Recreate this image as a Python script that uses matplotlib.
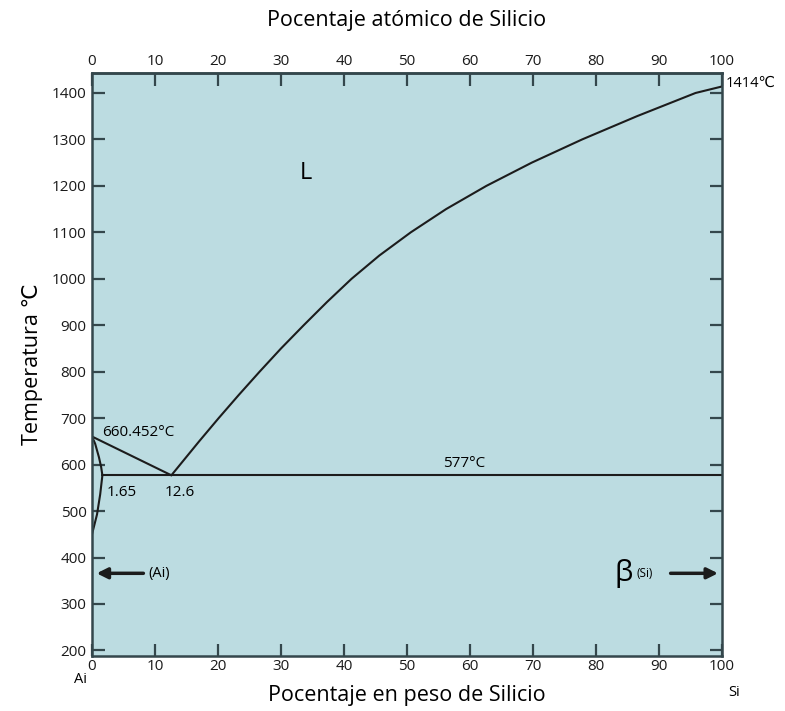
import matplotlib
matplotlib.use("Agg")
import matplotlib.pyplot as plt

plt.rcParams['font.family'] = ['Open Sans', 'DejaVu Sans']

# composition axis (wt% Si) and temperature ticks
wt_ticks = [0, 10, 20, 30, 40, 50, 60, 70, 80, 90, 100]
at_ticks = [0, 10, 20, 30, 40, 50, 60, 70, 80, 90, 100]
temp_ticks = [200, 300, 400, 500, 600, 700, 800, 900, 1000, 1100, 1200, 1300, 1400]

# Al-rich side
al_melt = 660.452
eutectic_T = 577
eutectic_x = 12.6
max_sol = 1.65

liq_al_x = [0, eutectic_x]
liq_al_T = [al_melt, eutectic_T]

solidus_x = [0, 0.5, 1.1, 1.45, max_sol]
solidus_T = [al_melt, 645, 616, 595, eutectic_T]

solvus_x = [max_sol, 1.3, 0.8, 0]
solvus_T = [eutectic_T, 536, 493, 450]

# Si-rich liquidus
liq_si_x = [12.6, 17.0, 20.1, 23.3, 26.6, 30.0, 33.6, 37.3, 41.2, 45.6, 50.6,
            56.2, 62.6, 69.8, 77.8, 86.5, 95.8, 100]
liq_si_T = [577, 650, 700, 750, 800, 850, 900, 950, 1000, 1050, 1100,
            1150, 1200, 1250, 1300, 1350, 1400, 1414]

eut_line_x = [max_sol, 100]
eut_line_T = [eutectic_T, eutectic_T]

bg = '#bcdce1'
line_c = '#1c1c1c'
spine_c = '#34474c'

fig = plt.figure(figsize=(7.85, 7.11), dpi=100)
ax = fig.add_axes([92/785, 55/711, 630/785, 583/711])
ax.set_facecolor(bg)

for xs, ts in [(liq_al_x, liq_al_T), (solidus_x, solidus_T), (solvus_x, solvus_T),
               (liq_si_x, liq_si_T), (eut_line_x, eut_line_T)]:
    ax.plot(xs, ts, color=line_c, lw=1.5, solid_capstyle='round', solid_joinstyle='round')

ax.set_xlim(0, 100)
ax.set_ylim(188, 1443)

for s in ax.spines.values():
    s.set_color(spine_c)
    s.set_linewidth(1.8)

ax.set_xticks(wt_ticks)
ax.set_yticks(temp_ticks)
ax.tick_params(axis='both', direction='in', length=9, width=1.6, color=spine_c,
               labelsize=11, labelcolor='#1a1a1a')
ax.tick_params(axis='y', right=True, pad=4)
ax.tick_params(axis='x', pad=2)

secx = ax.secondary_xaxis('top')
secx.set_xticks(at_ticks)
secx.tick_params(direction='in', length=9, width=1.6, color=spine_c,
                 labelsize=11, labelcolor='#1a1a1a', pad=3)
secx.spines['top'].set_color(spine_c)
secx.spines['top'].set_linewidth(1.8)
secx.set_xlabel('Pocentaje atómico de Silicio', fontsize=15.5, labelpad=20)

ax.set_xlabel('Pocentaje en peso de Silicio', fontsize=15.5, labelpad=8)
ax.set_ylabel('Temperatura ℃', fontsize=15.5, labelpad=6)

# annotations
ax.text(1.6, 670, '660.452°C', fontsize=11, ha='left', va='center')
ax.text(2.3, 540, '1.65', fontsize=11, ha='left', va='center')
ax.text(11.5, 540, '12.6', fontsize=11, ha='left', va='center')
ax.text(59, 603, '577°C', fontsize=11, ha='center', va='center')
ax.text(34, 1228, 'L', fontsize=17, ha='center', va='center')
ax.annotate('1414℃', xy=(100, 1414), xytext=(3, 2), textcoords='offset points',
            fontsize=10.5, ha='left', va='center', annotation_clip=False)

ax.annotate('', xy=(0.3, 366), xytext=(8.6, 366),
            arrowprops=dict(arrowstyle='-|>', lw=2.5, color=line_c, mutation_scale=16))
ax.text(9.0, 366, '(Ai)', fontsize=10.5, ha='left', va='center')

ax.text(84.4, 366, 'β', fontsize=21, ha='center', va='center')
ax.text(86.5, 366, '(Si)', fontsize=8.5, ha='left', va='center')
ax.annotate('', xy=(99.8, 366), xytext=(91.4, 366),
            arrowprops=dict(arrowstyle='-|>', lw=2.5, color=line_c, mutation_scale=16))

ax.text(-0.019, -0.04, 'Ai', transform=ax.transAxes, fontsize=10.5, ha='center', va='center')
ax.text(1.019, -0.063, 'Si', transform=ax.transAxes, fontsize=10.5, ha='center', va='center')

fig.savefig('out.png', dpi=100, facecolor='white')
